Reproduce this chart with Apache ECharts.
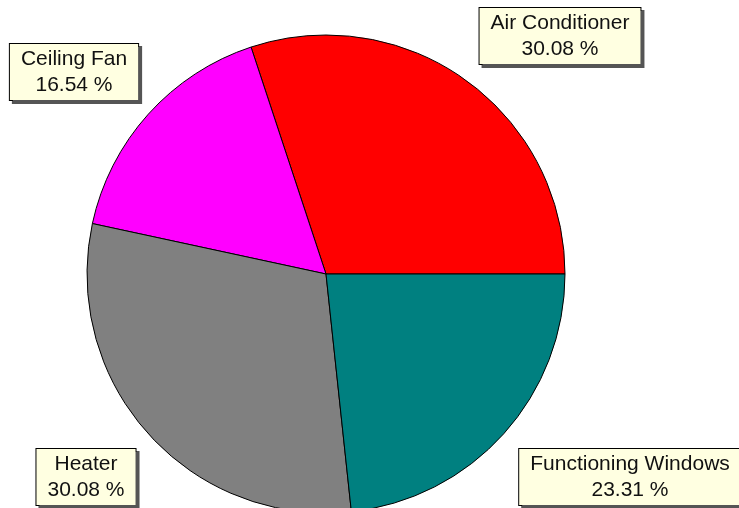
<!DOCTYPE html>
<html>
<head>
<meta charset="utf-8">
<script src="https://cdn.jsdelivr.net/npm/echarts@6/dist/echarts.min.js"></script>
<style>
  html, body { margin: 0; padding: 0; background: #fff; }
  #main { width: 739px; height: 508px; }
</style>
</head>
<body>
<div id="main"></div>
<script>
// slices, counter-clockwise from 3 o'clock
const categories = ['Air Conditioner', 'Ceiling Fan', 'Heater', 'Functioning Windows'];
const percents = [30.08, 16.54, 30.08, 23.31];
const colors = ['#ff0000', '#ff00ff', '#808080', '#008080'];

// centre of each callout box
const boxPos = [[560, 36], [74, 72], [86, 477], [630, 477]];

const chart = echarts.init(document.getElementById('main'));

const option = {
  animation: false,
  color: colors,
  series: [{
    type: 'pie',
    center: [326, 274],
    radius: 239,
    startAngle: 0,
    clockwise: false,
    avoidLabelOverlap: false,
    data: categories.map((name, i) => ({ name: name, value: percents[i] })),
    itemStyle: {
      borderColor: '#000',
      borderWidth: 1
    },
    emphasis: { disabled: true },
    label: {
      show: true,
      position: 'outside',
      formatter: p => p.name + '\n' + p.value.toFixed(2) + ' %',
      fontFamily: 'Liberation Sans, Arial, sans-serif',
      fontSize: 21,
      lineHeight: 26,
      color: '#111',
      align: 'center',
      backgroundColor: '#ffffe1',
      borderColor: '#000',
      borderWidth: 1,
      padding: [2, 11, 2, 11],
      shadowColor: '#555',
      shadowOffsetX: 3,
      shadowOffsetY: 3,
      shadowBlur: 0
    },
    labelLine: { show: false },
    labelLayout: function (params) {
      const p = boxPos[params.dataIndex];
      return { x: p[0], y: p[1], align: 'center', verticalAlign: 'middle' };
    }
  }]
};

chart.setOption(option);
</script>
</body>
</html>
